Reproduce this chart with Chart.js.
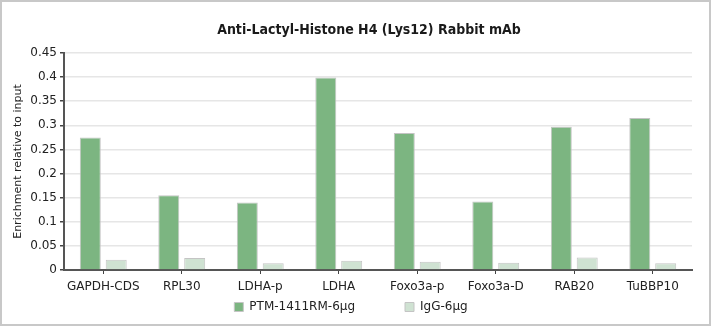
<!DOCTYPE html>
<html>
<head>
<meta charset="utf-8">
<script src="https://cdn.jsdelivr.net/npm/chart.js@4"></script>
<style>
  html, body { margin: 0; padding: 0; background: #fff; }
  #wrap { width: 711px; height: 327px; position: relative; }
  canvas { display: block; }
</style>
</head>
<body>
<div id="wrap"><canvas id="c" width="711" height="327"></canvas></div>
<script>
// ChIP-qPCR enrichment per locus
const categories = ['GAPDH-CDS', 'RPL30', 'LDHA-p', 'LDHA', 'Foxo3a-p', 'Foxo3a-D', 'RAB20', 'TuBBP10'];
const ptmValues  = [0.275, 0.155, 0.140, 0.399, 0.284, 0.142, 0.297, 0.315];
const iggValues  = [0.021, 0.025, 0.014, 0.019, 0.017, 0.015, 0.026, 0.014];
const seriesNames = ['PTM-1411RM-6µg', 'IgG-6µg'];
const chartTitle = 'Anti-Lactyl-Histone H4 (Lys12) Rabbit mAb';
const yAxisTitle = 'Enrichment relative to input';

const FONT = "'DejaVu Sans', Verdana, sans-serif";
const LEGEND_GAP = 50;      // horizontal gap between legend entries
const LEGEND_TOP_PAD = 5;   // space above the legend row
const LEGEND_HEIGHT = 29;
const LEGEND_SHIFT_X = 5;

// Outer frame and centred title over the plot area
const framePlugin = {
  id: 'frame',
  beforeDraw(chart) {
    const ctx = chart.ctx;
    ctx.save();
    ctx.fillStyle = '#ffffff';
    ctx.fillRect(0, 0, chart.width, chart.height);
    ctx.restore();
  },
  afterDraw(chart) {
    const ctx = chart.ctx;
    const a = chart.chartArea;
    ctx.save();
    ctx.strokeStyle = '#c8c8c8';
    ctx.lineWidth = 2;
    ctx.strokeRect(1, 1, chart.width - 2, chart.height - 3);
    ctx.fillStyle = '#1a1a1a';
    ctx.font = "bold 14px 'DejaVu Sans Condensed', 'DejaVu Sans', sans-serif";
    ctx.textAlign = 'center';
    ctx.textBaseline = 'middle';
    ctx.fillText(chartTitle, (a.left + a.right) / 2 - 9, 30);
    ctx.restore();
  }
};

// Keep a wide horizontal gap between legend entries without a tall legend box
const legendSpacing = {
  id: 'legendSpacing',
  beforeInit(chart) {
    const lg = chart.legend;
    if (!lg) return;
    const fit = lg.fit.bind(lg);
    lg.fit = function () {
      fit();
      this.height = LEGEND_HEIGHT;
    };
  },
  afterLayout(chart) {
    const lg = chart.legend;
    if (!lg) return;
    lg.top = lg.top + LEGEND_TOP_PAD - LEGEND_GAP;
    lg.left += LEGEND_SHIFT_X;
    lg.right += LEGEND_SHIFT_X;
  }
};

new Chart(document.getElementById('c'), {
  type: 'bar',
  data: {
    labels: categories,
    datasets: [
      {
        label: seriesNames[0],
        data: ptmValues,
        backgroundColor: '#7cb581',
        borderColor: '#c4c4c4',
        borderWidth: 1,
        categoryPercentage: 0.66,
        barPercentage: 0.81
      },
      {
        label: seriesNames[1],
        data: iggValues,
        backgroundColor: '#cfe2d2',
        borderColor: '#c4c4c4',
        borderWidth: 1,
        categoryPercentage: 0.66,
        barPercentage: 0.81
      }
    ]
  },
  options: {
    responsive: false,
    animation: false,
    devicePixelRatio: 1,
    layout: { padding: { top: 53, right: 19, left: 0, bottom: 2 } },
    plugins: {
      title: { display: false },
      tooltip: { enabled: false },
      legend: {
        position: 'bottom',
        labels: {
          color: '#222',
          font: { family: FONT, size: 12 },
          boxWidth: 9,
          boxHeight: 9,
          padding: LEGEND_GAP
        }
      }
    },
    scales: {
      x: {
        offset: true,
        grid: {
          display: true,
          drawOnChartArea: false,
          offset: false,
          tickLength: 4,
          tickColor: '#444',
          tickWidth: 1
        },
        border: { display: true, color: '#555', width: 2 },
        ticks: {
          color: '#222',
          font: { family: FONT, size: 12 },
          padding: 6,
          maxRotation: 0
        },
        afterFit(scale) { scale.height = 26; }
      },
      y: {
        min: 0,
        max: 0.45,
        ticks: {
          stepSize: 0.05,
          color: '#222',
          font: { family: FONT, size: 12 },
          padding: 3,
          callback: v => String(Math.round(v * 100) / 100)
        },
        grid: {
          color: '#e6e6e6',
          lineWidth: 1.5,
          tickLength: 4,
          tickColor: '#444',
          drawTicks: true
        },
        border: { display: true, color: '#555', width: 2 },
        title: {
          display: true,
          text: yAxisTitle,
          color: '#222',
          font: { family: FONT, size: 11 },
          padding: { top: 12, bottom: 0 }
        },
        afterFit(scale) { scale.width = 64; }
      }
    }
  },
  plugins: [framePlugin, legendSpacing]
});
</script>
</body>
</html>
